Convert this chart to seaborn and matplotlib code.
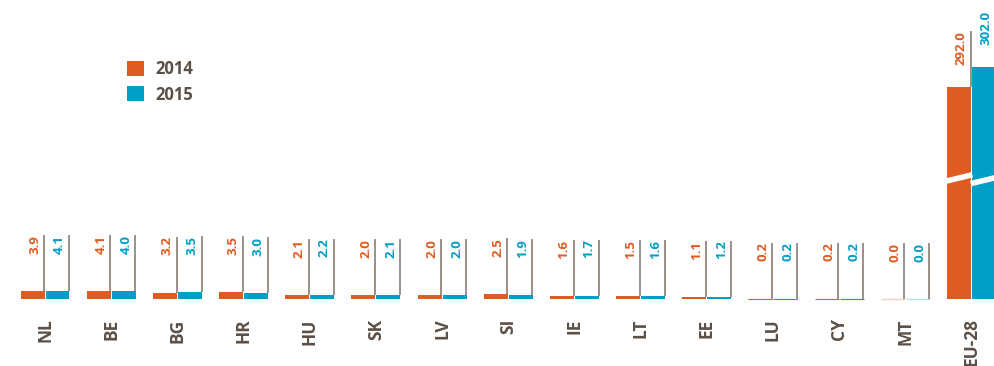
import matplotlib
matplotlib.use("Agg")
import matplotlib.pyplot as plt
import seaborn as sns
import pandas as pd
import numpy as np

# ---- data ----
categories = ['NL', 'BE', 'BG', 'HR', 'HU', 'SK', 'LV', 'SI', 'IE', 'LT', 'EE', 'LU', 'CY', 'MT', 'EU-28']
years = ['2014', '2015']
values_2014 = [3.9, 4.1, 3.2, 3.5, 2.1, 2.0, 2.0, 2.5, 1.6, 1.5, 1.1, 0.2, 0.2, 0.0, 292.0]
values_2015 = [4.1, 4.0, 3.5, 3.0, 2.2, 2.1, 2.0, 1.9, 1.7, 1.6, 1.2, 0.2, 0.2, 0.0, 302.0]

# ---- style ----
ORANGE = '#E05B20'
BLUE = '#009FC6'
TEXT = '#5C4F46'
LINE = '#8A7E76'
BREAK_THRESHOLD = 100      # values above this are drawn on a broken axis
BREAK_OFFSET = 186         # amount removed by the break
BREAK_AT = (60.5, 59.3)    # centre of the break stripe per series (display units)
LEADER = 28                # leader line length (display units)

def shown(v):
    return v - BREAK_OFFSET if v > BREAK_THRESHOLD else v

df = pd.DataFrame({
    'cat': categories * 2,
    'year': [years[0]] * len(categories) + [years[1]] * len(categories),
    'value': values_2014 + values_2015,
})
df['shown'] = df['value'].apply(shown)

sns.set_theme(style='white')
plt.rcParams['font.family'] = ['Open Sans', 'DejaVu Sans']

fig = plt.figure(figsize=(9.94, 3.66), dpi=100)
ax = fig.add_axes([0, 0, 1, 1])

sns.barplot(data=df, x='cat', y='shown', hue='year', order=categories, hue_order=years,
            palette=[ORANGE, BLUE], saturation=1, width=0.755, gap=0.04, linewidth=0, ax=ax)

ax.set_xlim(-0.68, 14.34)
ax.set_ylim(-33.5, 149.5)
for s in ax.spines.values():
    s.set_visible(False)
ax.spines['bottom'].set_position(('data', 0))
ax.set_yticks([])
ax.set_xlabel('')
ax.set_ylabel('')
ax.tick_params(axis='x', length=0, pad=14)
ax.set_xticks(range(len(categories)))
ax.set_xticklabels(categories, rotation=90, fontsize=12.5, fontweight='bold', color=TEXT, va='top')

# bars: leader lines + labels
bars = [p for p in ax.patches if p.get_width() > 0][:2 * len(categories)]
for i, p in enumerate(bars):
    yi = i // len(categories)
    ci = i % len(categories)
    val = (values_2014, values_2015)[yi][ci]
    col = (ORANGE, BLUE)[yi]
    top = p.get_height()
    if val == 0:
        p.set_edgecolor(col); p.set_linewidth(1.0); p.set_alpha(0.3)
    elif top < 0.5:
        p.set_edgecolor(col); p.set_linewidth(0.8)
    xr = p.get_x() + p.get_width() - 0.005
    ax.plot([xr, xr], [top, top + LEADER], color=LINE, lw=1.2, solid_capstyle='butt', zorder=3)
    ax.annotate(f'{val:.1f}', xy=(xr, top + LEADER), xytext=(-3, 0), textcoords='offset pixels',
                rotation=90, ha='right', va='top', fontsize=9.5, fontweight='bold', color=col,
                annotation_clip=False)

# axis break stripes on the EU-28 bars
for k, p in enumerate([bars[len(categories) - 1], bars[2 * len(categories) - 1]]):
    x0 = p.get_x() - 0.02
    x1 = p.get_x() + p.get_width() + 0.02
    ax.plot([x0, x1], [BREAK_AT[k] - 1.6, BREAK_AT[k] + 1.6], color='white', lw=4.0,
            zorder=4, solid_capstyle='butt')

# legend
handles, labels = ax.get_legend_handles_labels()
leg = ax.legend(handles, labels, loc='upper left', bbox_to_anchor=(127 / 994, 1 - 60 / 366),
                frameon=False, borderpad=0, borderaxespad=0, handlelength=1.0, handleheight=1.0,
                labelspacing=0.45, handletextpad=0.7, prop={'size': 12, 'weight': 'bold'})
for t in leg.get_texts():
    t.set_color(TEXT)

fig.savefig('out.png', dpi=100)
